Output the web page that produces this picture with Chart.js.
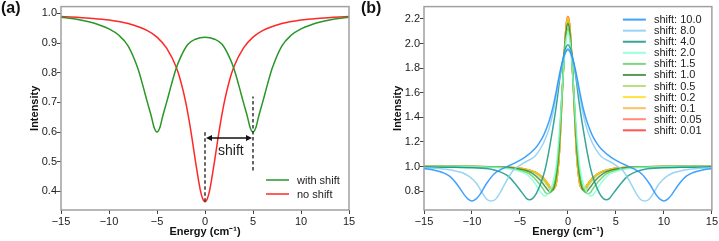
<!DOCTYPE html>
<html>
<head>
<meta charset="utf-8">
<script src="https://cdn.jsdelivr.net/npm/chart.js@4.4.1/dist/chart.umd.min.js"></script>
<style>
  html, body { margin: 0; padding: 0; background: #fff; }
  #wrap { position: relative; width: 719px; height: 241px; }
  #panelA { position: absolute; left: 0; top: 0; }
  #panelB { position: absolute; left: 360px; top: 0; }
</style>
</head>
<body>
<div id="wrap">
  <canvas id="panelA" width="360" height="241"></canvas>
  <canvas id="panelB" width="359" height="241"></canvas>
</div>
<script>
// ---- panel (a) data ----
const energyNoShift = [-15, -12, -10, -8, -6, -5, -4, -3, -2.5, -2, -1.5, -1, -0.5, -0.25, 0, 0.25, 0.5, 1, 1.5, 2, 2.5, 3, 4, 5, 6, 8, 10, 12, 15];
const intensityNoShift = [0.990, 0.984, 0.978, 0.966, 0.942, 0.920, 0.883, 0.819, 0.768, 0.699, 0.609, 0.503, 0.406, 0.376, 0.365, 0.376, 0.406, 0.503, 0.609, 0.699, 0.768, 0.819, 0.883, 0.920, 0.942, 0.966, 0.978, 0.984, 0.990];

const energyWithShift = [-15, -13.5, -12, -11, -10, -9, -8, -7, -6.5, -6, -5.6, -5.3, -5, -4.7, -4.4, -4, -3.5, -3, -2.5, -1.8, -1, 0, 1, 1.8, 2.5, 3, 3.5, 4, 4.4, 4.7, 5, 5.3, 5.6, 6, 6.5, 7, 8, 9, 10, 11, 12, 13.5, 15];
const intensityWithShift = [0.987, 0.981, 0.971, 0.961, 0.948, 0.927, 0.890, 0.815, 0.760, 0.700, 0.654, 0.615, 0.600, 0.615, 0.654, 0.700, 0.760, 0.815, 0.855, 0.895, 0.913, 0.920, 0.913, 0.895, 0.855, 0.815, 0.760, 0.700, 0.654, 0.615, 0.600, 0.615, 0.654, 0.700, 0.760, 0.815, 0.890, 0.927, 0.948, 0.961, 0.971, 0.981, 0.987];

const energyTicks = [-15, -10, -5, 0, 5, 10, 15];
const intensityTicksA = [0.4, 0.5, 0.6, 0.7, 0.8, 0.9, 1.0];
const intensityTicksB = [0.8, 1.0, 1.2, 1.4, 1.6, 1.8, 2.0, 2.2];

// annotation of panel (a), in data units
const dashAtZero = { x: 0, from: 0.365, to: 0.604 };
const dashAtShift = { x: 5, from: 0.47, to: 0.72 };
const arrowLevel = 0.58;
const shiftText = { x: 2.7, y: 0.535 };

// ---- panel (b) data ----
const shiftLabels = ["shift: 10.0", "shift: 8.0", "shift: 4.0", "shift: 2.0", "shift: 1.5", "shift: 1.0", "shift: 0.5", "shift: 0.2", "shift: 0.1", "shift: 0.05", "shift: 0.01"];
const shiftColors = [
  "rgba(30,144,255,0.85)", "rgba(135,206,240,0.85)", "rgba(20,150,135,0.85)", "rgba(127,255,212,0.8)",
  "rgba(80,200,80,0.75)", "rgba(30,120,30,0.75)", "rgba(160,210,80,0.7)", "rgba(255,215,0,0.75)",
  "rgba(255,165,40,0.7)", "rgba(255,99,71,0.75)", "rgba(255,30,30,0.75)"
];

const energyShift10 = [-15, -14, -13, -12.3, -11.5, -10.8, -10.4, -10, -9.6, -9.2, -8.5, -7.7, -7, -6.2, -5.5, -4.5, -3.5, -3, -2.5, -2, -1.6, -1.2, -0.8, -0.4, -0.2, 0, 0.2, 0.4, 0.8, 1.2, 1.6, 2, 2.5, 3, 3.5, 4.5, 5.5, 6.2, 7, 7.7, 8.5, 9.2, 9.6, 10, 10.4, 10.8, 11.5, 12.3, 13, 14, 15];
const intensityShift10 = [0.985, 0.972, 0.95, 0.92, 0.85, 0.77, 0.735, 0.72, 0.735, 0.77, 0.86, 0.94, 0.975, 1.005, 1.03, 1.075, 1.14, 1.19, 1.26, 1.36, 1.47, 1.62, 1.78, 1.90, 1.935, 1.95, 1.935, 1.90, 1.78, 1.62, 1.47, 1.36, 1.26, 1.19, 1.14, 1.075, 1.03, 1.005, 0.975, 0.94, 0.86, 0.77, 0.735, 0.72, 0.735, 0.77, 0.85, 0.92, 0.95, 0.972, 0.985];

const energyShift8 = [-15, -13.5, -12, -11, -10.3, -9.5, -8.8, -8.4, -8, -7.6, -7.2, -6.5, -5.7, -5, -4.5, -3.5, -3, -2.5, -2, -1.6, -1.2, -0.8, -0.4, -0.2, 0, 0.2, 0.4, 0.8, 1.2, 1.6, 2, 2.5, 3, 3.5, 4.5, 5, 5.7, 6.5, 7.2, 7.6, 8, 8.4, 8.8, 9.5, 10.3, 11, 12, 13.5, 15];
const intensityShift8 = [0.99, 0.985, 0.97, 0.95, 0.92, 0.86, 0.77, 0.73, 0.72, 0.73, 0.77, 0.87, 0.97, 1.01, 1.035, 1.08, 1.13, 1.20, 1.30, 1.42, 1.58, 1.76, 1.90, 1.945, 1.96, 1.945, 1.90, 1.76, 1.58, 1.42, 1.30, 1.20, 1.13, 1.08, 1.035, 1.01, 0.97, 0.87, 0.77, 0.73, 0.72, 0.73, 0.77, 0.86, 0.92, 0.95, 0.97, 0.985, 0.99];

const energyShift4 = [-15, -12, -10, -8, -7, -6.2, -5.5, -4.8, -4.3, -4, -3.7, -3.3, -2.8, -2.4, -2, -1.6, -1.2, -0.8, -0.4, -0.2, 0, 0.2, 0.4, 0.8, 1.2, 1.6, 2, 2.4, 2.8, 3.3, 3.7, 4, 4.3, 4.8, 5.5, 6.2, 7, 8, 10, 12, 15];
const intensityShift4 = [0.998, 0.995, 0.99, 0.978, 0.955, 0.92, 0.86, 0.79, 0.74, 0.73, 0.74, 0.78, 0.87, 0.97, 1.12, 1.30, 1.50, 1.74, 1.92, 1.97, 1.99, 1.97, 1.92, 1.74, 1.50, 1.30, 1.12, 0.97, 0.87, 0.78, 0.74, 0.73, 0.74, 0.79, 0.86, 0.92, 0.955, 0.978, 0.99, 0.995, 0.998];

const energyShift2 = [-15, -10, -8, -6, -5, -4.2, -3.5, -2.9, -2.6, -2.4, -2.2, -1.9, -1.5, -1.2, -0.9, -0.6, -0.3, -0.15, 0, 0.15, 0.3, 0.6, 0.9, 1.2, 1.5, 1.9, 2.2, 2.4, 2.6, 2.9, 3.5, 4.2, 5, 6, 8, 10, 15];
const intensityShift2 = [1.0, 1.0, 0.995, 0.98, 0.96, 0.93, 0.87, 0.80, 0.77, 0.76, 0.77, 0.80, 0.89, 1.02, 1.27, 1.62, 1.95, 2.05, 2.08, 2.05, 1.95, 1.62, 1.27, 1.02, 0.89, 0.80, 0.77, 0.76, 0.77, 0.80, 0.87, 0.93, 0.96, 0.98, 0.995, 1.0, 1.0];

const energyShift15 = [-15, -10, -8, -6, -5, -4, -3.2, -2.6, -2.35, -2.1, -1.85, -1.6, -1.2, -0.9, -0.6, -0.3, -0.15, 0, 0.15, 0.3, 0.6, 0.9, 1.2, 1.6, 1.85, 2.1, 2.35, 2.6, 3.2, 4, 5, 6, 8, 10, 15];
const intensityShift15 = [1.0, 1.0, 0.995, 0.985, 0.97, 0.94, 0.88, 0.82, 0.79, 0.78, 0.79, 0.82, 0.96, 1.22, 1.62, 1.97, 2.08, 2.12, 2.08, 1.97, 1.62, 1.22, 0.96, 0.82, 0.79, 0.78, 0.79, 0.82, 0.88, 0.94, 0.97, 0.985, 0.995, 1.0, 1.0];

const energyShift1 = [-15, -10, -8, -6, -4.5, -3.7, -2.9, -2.3, -2, -1.85, -1.7, -1.5, -1.2, -0.9, -0.6, -0.3, -0.15, 0, 0.15, 0.3, 0.6, 0.9, 1.2, 1.5, 1.7, 1.85, 2, 2.3, 2.9, 3.7, 4.5, 6, 8, 10, 15];
const intensityShift1 = [1.0, 1.0, 0.998, 0.99, 0.97, 0.945, 0.89, 0.83, 0.80, 0.79, 0.80, 0.82, 0.93, 1.18, 1.62, 2.0, 2.12, 2.16, 2.12, 2.0, 1.62, 1.18, 0.93, 0.82, 0.80, 0.79, 0.80, 0.83, 0.89, 0.945, 0.97, 0.99, 0.998, 1.0, 1.0];

const energyShift05 = [-15, -10, -8, -6, -4.5, -3.5, -2.7, -2.1, -1.9, -1.7, -1.45, -1.2, -0.9, -0.6, -0.3, -0.15, 0, 0.15, 0.3, 0.6, 0.9, 1.2, 1.45, 1.7, 1.9, 2.1, 2.7, 3.5, 4.5, 6, 8, 10, 15];
const intensityShift05 = [1.0, 1.0, 0.998, 0.992, 0.975, 0.95, 0.90, 0.84, 0.815, 0.805, 0.82, 0.90, 1.14, 1.60, 2.01, 2.14, 2.19, 2.14, 2.01, 1.60, 1.14, 0.90, 0.82, 0.805, 0.815, 0.84, 0.90, 0.95, 0.975, 0.992, 0.998, 1.0, 1.0];

const energySmall = [-15, -10, -8, -6, -4.5, -3.4, -2.6, -2, -1.8, -1.6, -1.4, -1.2, -0.9, -0.6, -0.3, -0.15, 0, 0.15, 0.3, 0.6, 0.9, 1.2, 1.4, 1.6, 1.8, 2, 2.6, 3.4, 4.5, 6, 8, 10, 15];
const intensityShift02 = [1.0, 1.0, 0.998, 0.993, 0.98, 0.955, 0.91, 0.85, 0.825, 0.815, 0.825, 0.87, 1.10, 1.58, 2.03, 2.16, 2.21, 2.16, 2.03, 1.58, 1.10, 0.87, 0.825, 0.815, 0.825, 0.85, 0.91, 0.955, 0.98, 0.993, 0.998, 1.0, 1.0];
const intensityShift01 = [1.0, 1.0, 0.998, 0.993, 0.98, 0.955, 0.91, 0.85, 0.825, 0.815, 0.825, 0.87, 1.10, 1.58, 2.03, 2.17, 2.22, 2.17, 2.03, 1.58, 1.10, 0.87, 0.825, 0.815, 0.825, 0.85, 0.91, 0.955, 0.98, 0.993, 0.998, 1.0, 1.0];
const intensityShift005 = [1.0, 1.0, 0.998, 0.993, 0.98, 0.955, 0.91, 0.85, 0.825, 0.815, 0.825, 0.87, 1.10, 1.58, 2.03, 2.17, 2.22, 2.17, 2.03, 1.58, 1.10, 0.87, 0.825, 0.815, 0.825, 0.85, 0.91, 0.955, 0.98, 0.993, 0.998, 1.0, 1.0];
const intensityShift001 = [1.0, 1.0, 0.998, 0.993, 0.98, 0.955, 0.91, 0.85, 0.825, 0.815, 0.825, 0.87, 1.10, 1.58, 2.03, 2.17, 2.22, 2.17, 2.03, 1.58, 1.10, 0.87, 0.825, 0.815, 0.825, 0.85, 0.91, 0.955, 0.98, 0.993, 0.998, 1.0, 1.0];

const shiftSeries = [
  [energyShift10, intensityShift10],
  [energyShift8, intensityShift8],
  [energyShift4, intensityShift4],
  [energyShift2, intensityShift2],
  [energyShift15, intensityShift15],
  [energyShift1, intensityShift1],
  [energyShift05, intensityShift05],
  [energySmall, intensityShift02],
  [energySmall, intensityShift01],
  [energySmall, intensityShift005],
  [energySmall, intensityShift001]
];

const FONT = "'Liberation Sans', Arial, sans-serif";
const tickFont = { family: FONT, size: 11 };
const titleFont = { family: FONT, size: 11, weight: "bold" };

function toPoints(xs, ys) {
    return xs.map((x, i) => ({ x: x, y: ys[i] }));
}

function formatTick(v) {
    return String(v).replace("-", "\u2212");
}

function lineSet(label, xs, ys, color) {
    return {
        label: label,
        data: toPoints(xs, ys),
        borderColor: color,
        borderWidth: 1.5,
        pointRadius: 0,
        fill: false,
        cubicInterpolationMode: "monotone"
    };
}

function makeScales(yMin, yMax, yTicks, yWidth, yTitlePad) {
    return {
        x: {
            type: "linear",
            min: -15,
            max: 15,
            afterBuildTicks: s => { s.ticks = energyTicks.map(v => ({ value: v })); },
            afterFit: s => { s.height = 31; },
            ticks: { autoSkip: false, maxRotation: 0, padding: 1, color: "#222", font: tickFont, callback: v => formatTick(v) },
            grid: { drawOnChartArea: false, tickLength: 4, color: "#444" },
            border: { display: false },
            title: { display: true, text: "Energy (cm\u207B\u00B9)", color: "#111", font: titleFont, padding: { top: 0, bottom: 2 } }
        },
        y: {
            type: "linear",
            min: yMin,
            max: yMax,
            afterBuildTicks: s => { s.ticks = yTicks.map(v => ({ value: v })); },
            afterFit: s => { s.width = yWidth; },
            ticks: { autoSkip: false, padding: 0, color: "#222", font: tickFont, callback: v => v.toFixed(1) },
            grid: { drawOnChartArea: false, tickLength: 4, color: "#444" },
            border: { display: false },
            title: { display: true, text: "Intensity", color: "#111", font: titleFont, padding: { top: yTitlePad, bottom: 0 } }
        }
    };
}

const frameBox = {
    id: "frameBox",
    afterDraw(chart) {
        const { ctx, chartArea: a } = chart;
        ctx.save();
        ctx.strokeStyle = "#a0a0a0";
        ctx.lineWidth = 1.5;
        ctx.strokeRect(a.left, a.top, a.right - a.left, a.bottom - a.top);
        ctx.restore();
    }
};

function panelLetter(text) {
    return {
        id: "panelLetter",
        afterDraw(chart) {
            const ctx = chart.ctx;
            ctx.save();
            ctx.fillStyle = "#111";
            ctx.font = "bold 16px " + FONT;
            ctx.textBaseline = "middle";
            ctx.textAlign = "left";
            ctx.fillText(text, 1, 9);
            ctx.restore();
        }
    };
}

function drawArrowHead(ctx, x, y, dir) {
    ctx.beginPath();
    ctx.moveTo(x, y);
    ctx.lineTo(x - dir * 6, y - 3);
    ctx.lineTo(x - dir * 6, y + 3);
    ctx.closePath();
    ctx.fill();
}

const shiftMarks = {
    id: "shiftMarks",
    afterDraw(chart) {
        const { ctx, scales: { x, y }, chartArea: a } = chart;
        ctx.save();
        ctx.strokeStyle = "#333";
        ctx.lineWidth = 1.5;
        ctx.setLineDash([3.5, 2.5]);
        [dashAtZero, dashAtShift].forEach(d => {
            ctx.beginPath();
            ctx.moveTo(x.getPixelForValue(d.x), y.getPixelForValue(d.from));
            ctx.lineTo(x.getPixelForValue(d.x), y.getPixelForValue(d.to));
            ctx.stroke();
        });
        ctx.setLineDash([]);
        const x0 = x.getPixelForValue(dashAtZero.x) + 1;
        const x1 = x.getPixelForValue(dashAtShift.x) - 1;
        const ay = y.getPixelForValue(arrowLevel);
        ctx.strokeStyle = "#111";
        ctx.fillStyle = "#111";
        ctx.beginPath();
        ctx.moveTo(x0 + 5, ay);
        ctx.lineTo(x1 - 5, ay);
        ctx.stroke();
        drawArrowHead(ctx, x0, ay, -1);
        drawArrowHead(ctx, x1, ay, 1);
        ctx.font = "14px " + FONT;
        ctx.textAlign = "center";
        ctx.textBaseline = "middle";
        ctx.fillStyle = "#222";
        ctx.fillText("shift", x.getPixelForValue(shiftText.x), y.getPixelForValue(shiftText.y));

        // legend, bottom right
        const items = [["with shift", "rgb(40,150,40)"], ["no shift", "rgb(255,40,40)"]];
        ctx.font = "11px " + FONT;
        ctx.textAlign = "left";
        items.forEach((it, i) => {
            const ly = a.bottom - 30 + i * 14;
            ctx.strokeStyle = it[1];
            ctx.beginPath();
            ctx.moveTo(a.right - 83, ly);
            ctx.lineTo(a.right - 60, ly);
            ctx.stroke();
            ctx.fillStyle = "#222";
            ctx.fillText(it[0], a.right - 52, ly + 0.5);
        });
        ctx.restore();
    }
};

const shiftLegend = {
    id: "shiftLegend",
    afterDraw(chart) {
        const { ctx, chartArea: a } = chart;
        ctx.save();
        ctx.font = "11px " + FONT;
        ctx.textAlign = "left";
        ctx.textBaseline = "middle";
        ctx.lineWidth = 2;
        shiftLabels.forEach((lab, i) => {
            const ly = a.top + 13 + i * 11.07;
            ctx.strokeStyle = shiftColors[i];
            ctx.beginPath();
            ctx.moveTo(a.right - 89, ly);
            ctx.lineTo(a.right - 66, ly);
            ctx.stroke();
            ctx.fillStyle = "#222";
            ctx.fillText(lab, a.right - 58, ly + 0.5);
        });
        ctx.restore();
    }
};

new Chart(document.getElementById("panelA"), {
    type: "line",
    data: {
        datasets: [
            lineSet("with shift", energyWithShift, intensityWithShift, "rgb(40,150,40)"),
            lineSet("no shift", energyNoShift, intensityNoShift, "rgb(255,40,40)")
        ]
    },
    options: {
        responsive: false,
        animation: false,
        layout: { padding: { top: 5, right: 11, left: 0, bottom: 0 } },
        scales: makeScales(0.337, 1.023, intensityTicksA, 61, 28),
        plugins: { legend: { display: false }, tooltip: { enabled: false } }
    },
    plugins: [frameBox, shiftMarks, panelLetter("(a)")]
});

new Chart(document.getElementById("panelB"), {
    type: "line",
    data: {
        datasets: shiftSeries.map((s, i) => lineSet(shiftLabels[i], s[0], s[1], shiftColors[i]))
    },
    options: {
        responsive: false,
        animation: false,
        layout: { padding: { top: 5, right: 7, left: 0, bottom: 0 } },
        scales: makeScales(0.647, 2.30, intensityTicksB, 64, 31),
        plugins: { legend: { display: false }, tooltip: { enabled: false } }
    },
    plugins: [frameBox, shiftLegend, panelLetter("(b)")]
});
</script>
</body>
</html>
